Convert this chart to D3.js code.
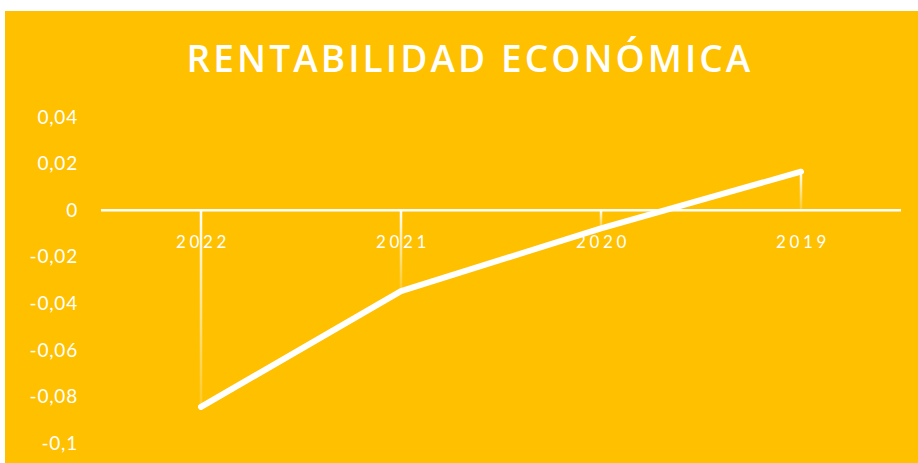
<!DOCTYPE html>
<html>
<head>
<meta charset="utf-8">
<script src="https://cdn.jsdelivr.net/npm/d3@7"></script>
<style>
  body { margin: 0; background: #fff; }
  svg { display: block; }
</style>
</head>
<body>
<div id="chart"></div>
<script>
var years = ["2022", "2021", "2020", "2019"];
var values = [-0.0845, -0.0348, -0.0078, 0.0165];
var yTicks = [0.04, 0.02, 0, -0.02, -0.04, -0.06, -0.08, -0.1];
var title = "RENTABILIDAD ECONÓMICA";

var width = 918, height = 463;
var bg = "#FFC000";

var svg = d3.select("#chart").append("svg")
  .attr("width", width)
  .attr("height", height);

svg.append("rect")
  .attr("x", 5).attr("y", 11)
  .attr("width", width - 5).attr("height", height - 11)
  .attr("fill", bg);

svg.append("text")
  .attr("x", 470).attr("y", 72)
  .attr("text-anchor", "middle")
  .style("font", "600 37px 'Open Sans', sans-serif")
  .style("letter-spacing", "3.1px")
  .attr("fill", "#fff")
  .text(title);

var x = d3.scaleBand().domain(years).range([101, 901]);
var y = d3.scaleLinear().domain([-0.1, 0.04]).range([443, 117]);

var loc = d3.formatLocale({decimal: ",", thousands: ".", grouping: [3], currency: ["", "€"], minus: "-"});
var fmt = loc.format("~g");

// y labels
svg.selectAll(".ylab")
  .data(yTicks)
  .enter().append("text")
  .attr("class", "ylab")
  .attr("x", 78)
  .attr("y", d => y(d))
  .attr("dy", "0.35em")
  .attr("text-anchor", "end")
  .style("font", "19px 'Lato', sans-serif")
  .style("letter-spacing", "0.8px")
  .attr("fill", "#fff")
  .text(d => fmt(d));

var data = years.map((yr, i) => ({year: yr, value: values[i]}));

// drop lines, fading from top to bottom
var defs = svg.append("defs");
data.forEach(function(d, i) {
  var top = Math.min(y(0), y(d.value)), bot = Math.max(y(0), y(d.value));
  var g = defs.append("linearGradient")
    .attr("id", "drop" + i)
    .attr("gradientUnits", "userSpaceOnUse")
    .attr("x1", 0).attr("x2", 0).attr("y1", top).attr("y2", bot);
  g.append("stop").attr("offset", "0%").attr("stop-color", "#fff").attr("stop-opacity", 1);
  g.append("stop").attr("offset", "100%").attr("stop-color", "#fff").attr("stop-opacity", 0.15);
  d.top = top; d.bot = bot;
});

svg.selectAll(".drop")
  .data(data)
  .enter().append("rect")
  .attr("class", "drop")
  .attr("x", d => x(d.year) + x.bandwidth() / 2 - 1.25)
  .attr("y", d => d.top)
  .attr("width", 2.5)
  .attr("height", d => d.bot - d.top)
  .attr("fill", (d, i) => "url(#drop" + i + ")");

// x axis line
svg.append("line")
  .attr("x1", 101).attr("x2", 901)
  .attr("y1", y(0)).attr("y2", y(0))
  .attr("stroke", "#fff")
  .attr("stroke-width", 2.5);

// x labels
svg.selectAll(".xlab")
  .data(years)
  .enter().append("text")
  .attr("class", "xlab")
  .attr("x", d => x(d) + x.bandwidth() / 2 + 2)
  .attr("y", 248)
  .attr("text-anchor", "middle")
  .style("font", "17px 'Lato', sans-serif")
  .style("letter-spacing", "3.6px")
  .attr("fill", "#fff")
  .text(d => d);

var line = d3.line()
  .x(d => x(d.year) + x.bandwidth() / 2)
  .y(d => y(d.value));

svg.append("path")
  .datum(data)
  .attr("d", line)
  .attr("fill", "none")
  .attr("stroke", "#fff")
  .attr("stroke-width", 6)
  .attr("stroke-linecap", "round")
  .attr("stroke-linejoin", "round");
</script>
</body>
</html>
